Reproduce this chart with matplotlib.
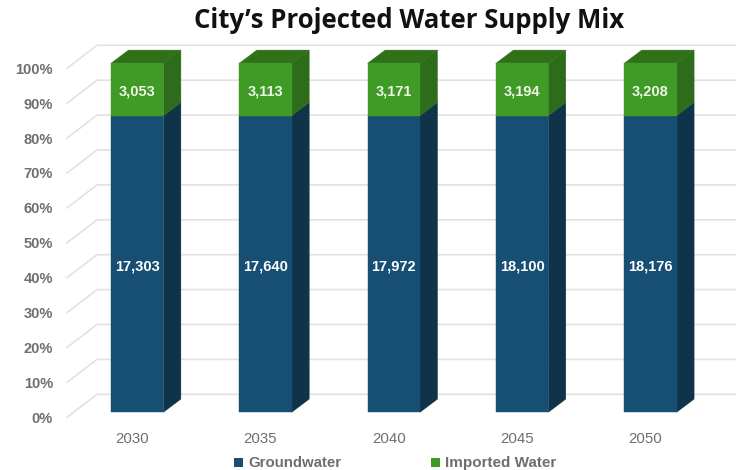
import matplotlib
matplotlib.use("Agg")
import matplotlib.pyplot as plt
from matplotlib.patches import Polygon, Rectangle
from matplotlib.transforms import ScaledTranslation

years = ["2030", "2035", "2040", "2045", "2050"]
groundwater = [17303, 17640, 17972, 18100, 18176]
imported = [3053, 3113, 3171, 3194, 3208]
pct_ticks = [0, 10, 20, 30, 40, 50, 60, 70, 80, 90, 100]

W, H = 736, 470
y0_px, y100_px = 412.3, 63.3
x0_px, pitch = 137.2, 128.3
left_px = 67

BLUE, BLUE_SIDE = "#164f73", "#0f3349"
GREEN, GREEN_SIDE, GREEN_TOP = "#3f9a26", "#2c6c1a", "#2f7019"
GREY = "#6f6f6f"
SANS = "Liberation Sans"

fig = plt.figure(figsize=(W / 100, H / 100), dpi=100)
ax = fig.add_axes([left_px / W, 1 - y0_px / H, (W - left_px) / W, (y0_px - y100_px) / H])
ax.set_ylim(0, 100)
ax.set_xlim((left_px - x0_px) / pitch, (W - x0_px) / pitch)
for s in ax.spines.values():
    s.set_visible(False)

px_x = 1 / pitch
px_y = 100 / (y0_px - y100_px)

# wall grid lines with the 3d kink at the left
for p in pct_ticks:
    ax.plot([(left_px - x0_px) * px_x, (97 - x0_px) * px_x, (W - x0_px) * px_x],
            [p - 5 * px_y, p + 18 * px_y, p + 18 * px_y],
            color="#e2e2e2", lw=1.2, clip_on=False, zorder=1)

bar_w = 52.4 * px_x
dx = 17.5 * px_x
dy = 13.2 * px_y


def block(x, lo, hi, front, side, top=None):
    l, r = x - bar_w / 2, x + bar_w / 2
    ax.add_patch(Polygon([(r, lo), (r + dx, lo + dy), (r + dx, hi + dy), (r, hi)],
                         fc=side, ec=side, lw=0.3, zorder=3, clip_on=False))
    if top:
        ax.add_patch(Polygon([(l, hi), (l + dx, hi + dy), (r + dx, hi + dy), (r, hi)],
                             fc=top, ec=top, lw=0.3, zorder=3, clip_on=False))
    ax.add_patch(Rectangle((l, lo), bar_w, hi - lo, fc=front, ec=front, lw=0.3, zorder=4, clip_on=False))


for i in range(len(years)):
    total = groundwater[i] + imported[i]
    g = groundwater[i] / total * 100
    block(i, 0, g, BLUE, BLUE_SIDE)
    block(i, g, 100, GREEN, GREEN_SIDE, GREEN_TOP)
    ax.text(i, g / 2 - 0.7, f"{groundwater[i]:,}", color="white", ha="center", va="center",
            fontsize=10.5, fontweight="bold", family=SANS, zorder=5)
    ax.text(i, g + (100 - g) / 2 - 0.6, f"{imported[i]:,}", color="#eef6e8", ha="center", va="center",
            fontsize=10.5, fontweight="bold", family=SANS, zorder=5)

ax.set_yticks(pct_ticks)
ax.set_yticklabels([f"{p}%" for p in pct_ticks], fontsize=10.5, fontweight="bold",
                   color=GREY, family=SANS)
ax.set_xticks(range(len(years)))
ax.set_xticklabels(years, fontsize=10.8, color=GREY, family=SANS)
ax.tick_params(axis="both", length=0)
ax.tick_params(axis="y", pad=10)
ax.tick_params(axis="x", pad=14.5)
for lab in ax.get_yticklabels():
    lab.set_transform(lab.get_transform() + ScaledTranslation(0, -5 / 100, fig.dpi_scale_trans))
for lab in ax.get_xticklabels():
    lab.set_transform(lab.get_transform() + ScaledTranslation(-5 / 100, 0, fig.dpi_scale_trans))

fig.text(409 / W, 1 - 21 / H, "City\u2019s Projected Water Supply Mix", ha="center", va="center",
         fontsize=18.5, fontweight="bold", family="Open Sans", color="#111111")

# legend
fig.patches.append(Rectangle((234 / W, 1 - 467 / H), 9 / W, 9 / H, transform=fig.transFigure, fc=BLUE, ec="none"))
fig.text(248 / W, 1 - 463 / H, "Groundwater", fontsize=10.8, fontweight="bold", color=GREY,
         family=SANS, va="center")
fig.patches.append(Rectangle((431 / W, 1 - 467 / H), 9 / W, 9 / H, transform=fig.transFigure, fc=GREEN, ec="none"))
fig.text(445 / W, 1 - 463 / H, "Imported Water", fontsize=11, fontweight="bold", color=GREY,
         family=SANS, va="center")

fig.savefig("out.png", dpi=100)
